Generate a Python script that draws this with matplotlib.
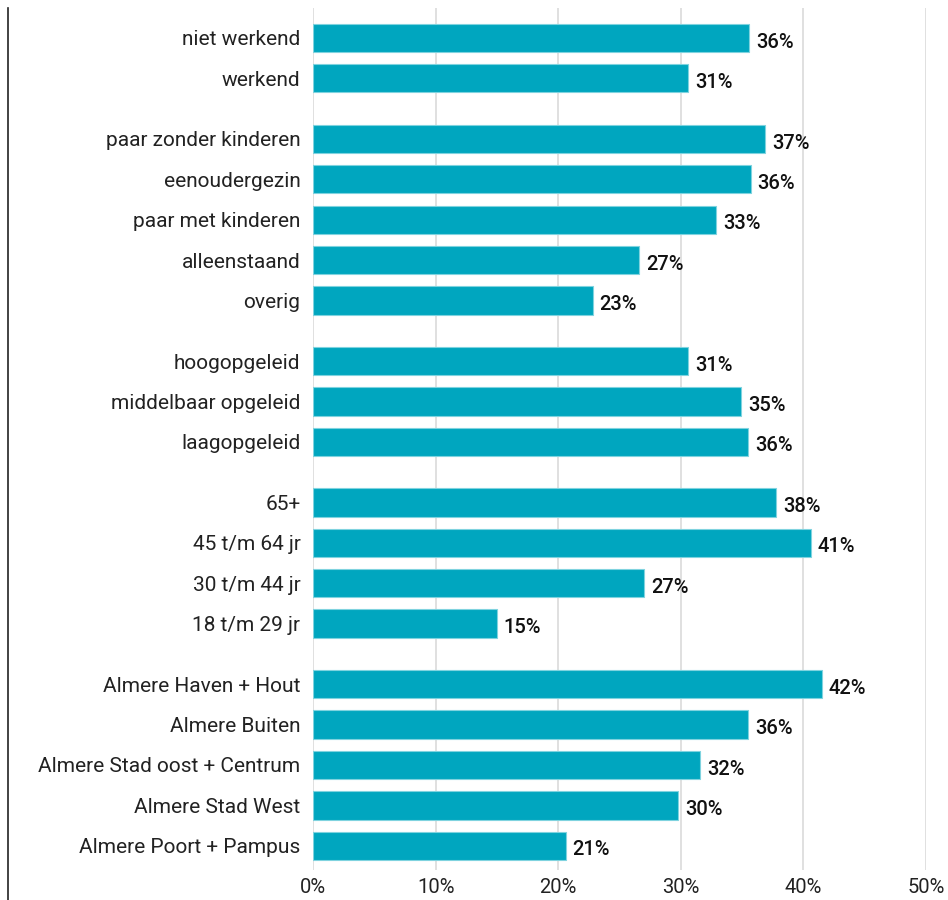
import numpy as np
import matplotlib.pyplot as plt
from matplotlib.lines import Line2D

plt.rcParams['font.family'] = ['Roboto', 'DejaVu Sans']

groups = [
    ['niet werkend', 'werkend'],
    ['paar zonder kinderen', 'eenoudergezin', 'paar met kinderen', 'alleenstaand', 'overig'],
    ['hoogopgeleid', 'middelbaar opgeleid', 'laagopgeleid'],
    ['65+', '45 t/m 64 jr', '30 t/m 44 jr', '18 t/m 29 jr'],
    ['Almere Haven + Hout', 'Almere Buiten', 'Almere Stad oost + Centrum',
     'Almere Stad West', 'Almere Poort + Pampus'],
]
values = [
    [35.6, 30.6],
    [36.9, 35.7, 32.9, 26.6, 22.8],
    [30.6, 34.9, 35.5],
    [37.8, 40.6, 27.0, 15.0],
    [41.5, 35.5, 31.6, 29.8, 20.6],
]
xticks = [0, 10, 20, 30, 40, 50]

teal = '#00a6bf'

# row positions: one slot per bar, extra half slot between groups
labels, vals, ypos = [], [], []
y = 0.0
for g, v in zip(groups, values):
    for lab, val in zip(g, v):
        labels.append(lab)
        vals.append(val)
        ypos.append(y)
        y += 1
    y += 0.5
ypos = np.array(ypos)

fig = plt.figure(figsize=(9.48, 9.0), dpi=100)
ax = fig.add_axes([313 / 948, 30 / 900, (926 - 313) / 948, 862 / 900])

ax.barh(ypos, vals, height=0.7, color=teal, edgecolor='#7fd3df', linewidth=0.8, zorder=3)
for yy, v in zip(ypos, vals):
    ax.annotate(f'{round(v):.0f}%', (v, yy), xytext=(5, -3), textcoords='offset points',
                ha='left', va='center', fontsize=14.5, fontweight='medium', color='#111111')

ax.set_ylim(ypos[-1] + 0.6, -0.74)
ax.set_xlim(0, 50)
ax.set_yticks(ypos)
ax.set_yticklabels(labels, fontsize=15, color='#222222')
ax.set_xticks(xticks)
ax.set_xticklabels([f'{t}%' for t in xticks], fontsize=14.5, color='#222222')
ax.tick_params(length=0, pad=9)
ax.tick_params(axis='x', pad=6)
ax.grid(axis='x', color='#dddddd', linewidth=1.3, zorder=0)
for s in ax.spines.values():
    s.set_visible(False)

fig.add_artist(Line2D([8 / 948, 8 / 948], [0, 1 - 8 / 900], color='#222222', linewidth=1.2))

fig.savefig('out.png', dpi=100)
